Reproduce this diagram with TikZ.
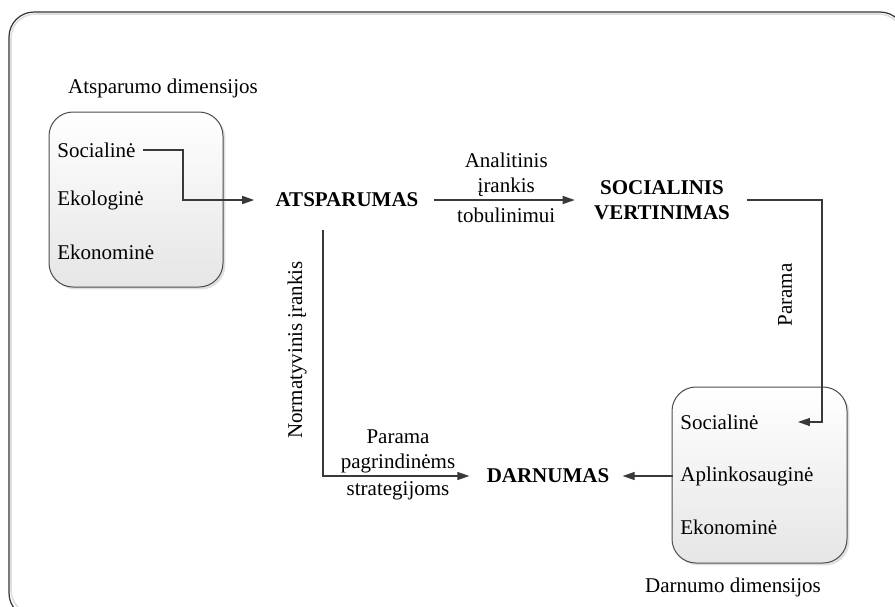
\documentclass[tikz,border=0pt]{standalone}
\usepackage{fontspec}
\setmainfont{Liberation Serif}
\usepackage{tikz}
\usetikzlibrary{arrows.meta, positioning, shadows}
\tikzset{
    txt/.style={font=\fontsize{10.5}{12.5}\selectfont, inner sep=3.5pt},
    item/.style={txt, anchor=west},
    concept/.style={txt, font=\fontsize{10.5}{12.5}\selectfont\bfseries, align=center},
    lbl/.style={txt, align=center},
    dimbox/.style={draw=gray!60!black, line width=0.5pt, rounded corners=12pt, top color=white, bottom color=gray!20,
        drop shadow={shadow xshift=1.2pt, shadow yshift=-1.2pt, opacity=0.25}},
    arrow/.style={draw=gray!45!black, line width=0.6pt, -{Triangle[length=6pt,width=4pt]}}
}

\begin{document}
\begin{tikzpicture}[x=0.5pt, y=-0.5pt]
    \useasboundingbox (0,0) rectangle (895,606);
    % outer frame
    \begin{scope}
        \clip (0,0) rectangle (895,606);
        \draw[gray!25, line width=0.8pt, rounded corners=12pt] (11,14) rectangle (903,614);
        \draw[gray!40!black, line width=0.6pt, rounded corners=12.5pt] (9,12) rectangle (905,618);
    \end{scope}

    % dimension boxes
    \draw[dimbox] (49,112) rectangle (223,287);
    \draw[dimbox] (672,387) rectangle (847,563);

    \node (adim) [lbl] at (163,88) {Atsparumo dimensijos};
    \node (asoc) [item] at (50,150) {Socialinė};
    \node (aeko) [item] at (50,200) {Ekologinė};
    \node (aekon) [item] at (50,252) {Ekonominė};

    \node (ddim) [lbl] at (733,587) {Darnumo dimensijos};
    \node (dsoc) [item] at (673,422) {Socialinė};
    \node (dapl) [item] at (673,476) {Aplinkosauginė};
    \node (dekon) [item] at (673,527) {Ekonominė};

    % main concepts
    \node (atsp) [concept] at (347,200) {ATSPARUMAS};
    \node (socv) [concept] at (662,200) {SOCIALINIS\\VERTINIMAS};
    \node (darn) [concept] at (548,476) {DARNUMAS};

    \coordinate (abend) at (183,0);
    \coordinate (sbend) at (822,0);
    \coordinate (nbend) at (323,0);

    % connectors
    \draw [arrow, shorten >=7pt] (asoc.east) -| (abend |- atsp.west) -- (atsp.west);
    \draw [arrow, shorten <=4pt, shorten >=6pt] (atsp.east) -- (socv.west)
        node (anal) [lbl, midway, above=-2pt] {Analitinis\\įrankis}
        node (tobul) [lbl, midway, below=0pt] {tobulinimui};
    \draw [arrow, shorten <=5pt, shorten >=16pt] (socv.east) -| (sbend |- dsoc.east) -- (dsoc.east);
    \node (param) [lbl, rotate=90] at (785,295) {Parama};
    \draw [arrow, shorten >=3pt] (dapl.west) -- (darn.east);
    \draw [arrow, shorten <=8pt, shorten >=5pt] (atsp.south -| nbend) |- (darn.west);
    \node (norm) [lbl, rotate=90] at (297,350) {Normatyvinis įrankis};
    \node (parag) [lbl] at (398,451) {Parama\\pagrindinėms};
    \node (strat) [lbl] at (398,491) {strategijoms};
\end{tikzpicture}
\end{document}
